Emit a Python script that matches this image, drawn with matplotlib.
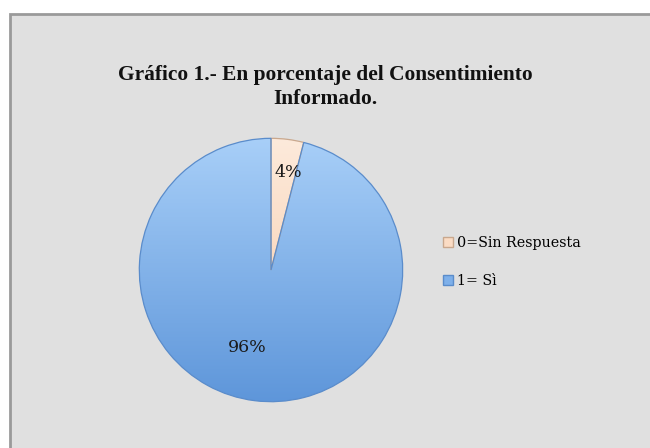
import numpy as np
import matplotlib
matplotlib.use("Agg")
import matplotlib.pyplot as plt
from matplotlib.patches import Rectangle
from matplotlib.lines import Line2D

# data
labels = ["0=Sin Respuesta", "1= Sì"]
values = [4, 96]
pct_text = ["4%", "96%"]
colors = ["#fbd7bb", "#8db8ea"]
grad_top = ["#fdeadb", "#a8cff8"]
grad_bot = ["#f6c9a6", "#5e96da"]
edges = ["#c9a88e", "#5a8ccb"]

W, H = 650, 448
fig = plt.figure(figsize=(W / 100, H / 100), dpi=100)
fig.patch.set_facecolor("white")

# grey chart area with border
fig.patches.append(Rectangle((10 / W, -0.01), 1.0, 1 - 14 / H + 0.01,
                             transform=fig.transFigure, facecolor="#e0e0e0",
                             edgecolor="#9a9a9a", linewidth=2, zorder=-10))

title_font = dict(ha="center", va="center", fontsize=15.4, fontweight="bold",
                  family="Liberation Serif", color="#111111")
fig.text(325 / W, 1 - 75 / H, "Gráfico 1.- En porcentaje del Consentimiento", **title_font)
fig.text(325 / W, 1 - 99 / H, "Informado.", **title_font)

# pie axes: centre (271, 270), radius ~133 px
cx, cy, r = 271, 270, 133
ax = fig.add_axes([(cx - r) / W, 1 - (cy + r) / H, 2 * r / W, 2 * r / H])
ax.patch.set_alpha(0)
ax.axis("off")

wedges, _ = ax.pie(values, colors=colors, startangle=90, counterclock=False,
                   radius=1.0, center=(0, 0), frame=False,
                   wedgeprops=dict(linewidth=0.9))

# vertical gradient on each wedge, clipped to its shape
grad = np.linspace(1.0, 0.0, 256).reshape(-1, 1, 1)
for w, t, b, ec in zip(wedges, grad_top, grad_bot, edges):
    top = np.array(matplotlib.colors.to_rgb(t))
    bot = np.array(matplotlib.colors.to_rgb(b))
    img = top * grad + bot * (1 - grad)
    im = ax.imshow(img, extent=(-1, 1, -1, 1), origin="upper", zorder=1.5,
                   aspect="auto")
    im.set_clip_path(w)
    w.set_zorder(2)
    w.set_facecolor("none")
    w.set_edgecolor(ec)

ax.set_xlim(-1.01, 1.01)
ax.set_ylim(-1.01, 1.01)

ax.text(0.13, 0.74, pct_text[0], ha="center", va="center", fontsize=12.5,
        family="DejaVu Serif", color="#1a1a1a", zorder=3)
ax.text(-0.18, -0.59, pct_text[1], ha="center", va="center", fontsize=12.5,
        family="DejaVu Serif", color="#1a1a1a", zorder=3)

handles = [Line2D([], [], marker="s", linestyle="none", markersize=6.5,
                  markerfacecolor=c, markeredgecolor=e)
           for c, e in zip(["#fbdcc4", "#7eb0ea"], edges)]
leg = fig.legend(handles, labels, loc="upper left",
                 bbox_to_anchor=(435 / W, 1 - 229 / H), frameon=False,
                 prop=dict(family="DejaVu Serif", size=10.3), handlelength=0.8,
                 handletextpad=0.25, labelspacing=1.7, borderpad=0)

fig.savefig("out.png", dpi=100)
